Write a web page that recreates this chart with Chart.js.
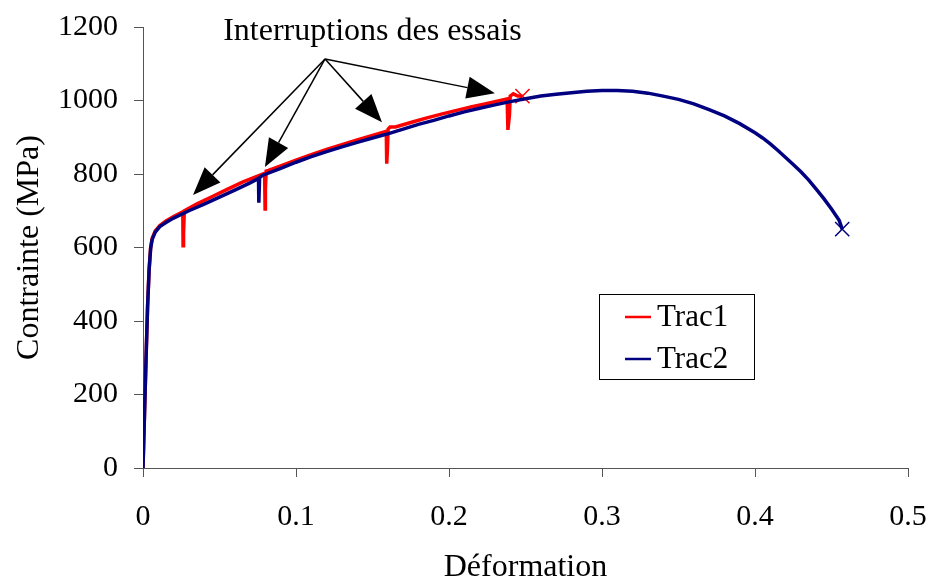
<!DOCTYPE html>
<html>
<head>
<meta charset="utf-8">
<script src="https://cdn.jsdelivr.net/npm/chart.js@4"></script>
<style>
  html, body { margin: 0; padding: 0; background: #fff; }
  #wrap { width: 930px; height: 580px; }
</style>
</head>
<body>
<div id="wrap"><canvas id="tractionChart" width="930" height="580"></canvas></div>
<script>
// Trac1 (red): strain / stress
const trac1Strain = [0, 0.001, 0.002, 0.003, 0.004, 0.005, 0.006, 0.008, 0.011, 0.015, 0.02, 0.026, 0.0262, 0.0265, 0.027,
  0.035, 0.045, 0.055, 0.065, 0.0795, 0.0798, 0.080, 0.0805, 0.082, 0.09, 0.1, 0.11, 0.12, 0.13, 0.14, 0.15,
  0.159, 0.1593, 0.1598, 0.1602, 0.1615, 0.165, 0.175, 0.185, 0.195, 0.205, 0.215, 0.225, 0.238, 0.2385, 0.2395,
  0.240, 0.242, 0.245, 0.248];
const trac1Stress = [0, 150, 300, 440, 540, 600, 625, 645, 660, 672, 684, 697, 605, 640, 700,
  718, 738, 758, 778, 802, 705, 760, 808, 810, 822, 838, 853, 867, 880, 893, 905,
  916, 828, 870, 922, 928, 928, 940, 952, 963, 973, 983, 992, 1004, 920, 960,
  1012, 1018, 1012, 1012];

// Trac2 (blue)
const trac2Strain = [0, 0.001, 0.002, 0.003, 0.004, 0.005, 0.006, 0.008, 0.011, 0.015, 0.02, 0.03, 0.04, 0.05, 0.06,
  0.07, 0.0755, 0.0757, 0.0762, 0.078, 0.09, 0.1, 0.11, 0.12, 0.13, 0.14, 0.15, 0.16, 0.17, 0.18, 0.19, 0.2,
  0.21, 0.22, 0.23, 0.24, 0.25, 0.26, 0.27, 0.28, 0.29, 0.3, 0.31, 0.32, 0.33, 0.34, 0.35, 0.36, 0.37, 0.38,
  0.39, 0.4, 0.405, 0.41, 0.415, 0.42, 0.425, 0.43, 0.435, 0.44, 0.445, 0.45, 0.455, 0.457];
const trac2Stress = [0, 150, 300, 440, 540, 598, 622, 642, 657, 668, 680, 700, 718, 737, 756,
  776, 788, 722, 790, 796, 815, 832, 847, 861, 874, 886, 898, 909, 922, 935, 946, 958,
  969, 979, 988, 997, 1005, 1012, 1017, 1021, 1025, 1027, 1027, 1025, 1020, 1012, 1003, 991, 975, 958,
  937, 912, 898, 882, 864, 845, 826, 806, 784, 759, 733, 705, 674, 650];

const xTicks = [0, 0.1, 0.2, 0.3, 0.4, 0.5];
const yTicks = [0, 200, 400, 600, 800, 1000, 1200];

// annotation: one label, arrows fanning out to the interruptions
const noteText = 'Interruptions des essais';
const noteAt = [0.150, 1165];
const arrowFrom = [0.119, 1113];
const arrowTipX = [0.0327, 0.0797, 0.1562, 0.230];
const arrowTipY = [743, 819, 941, 1020];

const serif = 'Liberation Serif';

function toPoints(xs, ys) {
  return xs.map((x, i) => ({ x: x, y: ys[i] }));
}

const lastMarker = (ctx) => ctx.dataIndex === ctx.dataset.data.length - 1 ? 10 : 0;

const annotationPlugin = {
  id: 'interruptions',
  afterDatasetsDraw(chart) {
    const { ctx, scales: { x, y } } = chart;
    ctx.save();
    ctx.fillStyle = '#000';
    ctx.font = '32px "' + serif + '"';
    ctx.textAlign = 'center';
    ctx.textBaseline = 'alphabetic';
    ctx.fillText(noteText, x.getPixelForValue(noteAt[0]), y.getPixelForValue(noteAt[1]));

    const ox = x.getPixelForValue(arrowFrom[0]);
    const oy = y.getPixelForValue(arrowFrom[1]);
    ctx.strokeStyle = '#000';
    ctx.lineWidth = 1.5;
    arrowTipX.forEach((tx, i) => {
      const px = x.getPixelForValue(tx);
      const py = y.getPixelForValue(arrowTipY[i]);
      const ang = Math.atan2(py - oy, px - ox);
      const len = 28, half = 11;
      const bx = px - len * Math.cos(ang);
      const by = py - len * Math.sin(ang);
      ctx.beginPath();
      ctx.moveTo(ox, oy);
      ctx.lineTo(bx, by);
      ctx.stroke();
      ctx.beginPath();
      ctx.moveTo(px, py);
      ctx.lineTo(bx + half * Math.sin(ang), by - half * Math.cos(ang));
      ctx.lineTo(bx - half * Math.sin(ang), by + half * Math.cos(ang));
      ctx.closePath();
      ctx.fill();
    });
    ctx.restore();
  }
};

const legendBoxPlugin = {
  id: 'legendBox',
  afterDraw(chart) {
    const { ctx } = chart;
    const sets = chart.data.datasets.slice().sort((a, b) => a.legendRank - b.legendRank);
    ctx.save();
    ctx.fillStyle = '#fff';
    ctx.fillRect(599.5, 294.5, 155, 85);
    ctx.strokeStyle = '#000';
    ctx.lineWidth = 1;
    ctx.strokeRect(599.5, 294.5, 155, 85);
    ctx.font = '31px "' + serif + '"';
    ctx.textBaseline = 'middle';
    ctx.textAlign = 'left';
    sets.forEach((ds, i) => {
      const yy = 317 + i * 42;
      ctx.strokeStyle = ds.borderColor;
      ctx.lineWidth = 2.5;
      ctx.beginPath();
      ctx.moveTo(625, yy);
      ctx.lineTo(651, yy);
      ctx.stroke();
      ctx.fillStyle = '#000';
      ctx.fillText(ds.label, 657, yy + 1);
    });
    ctx.restore();
  }
};

new Chart(document.getElementById('tractionChart'), {
  type: 'line',
  data: {
    datasets: [
      {
        label: 'Trac2',
        legendRank: 1,
        order: 0,
        data: toPoints(trac2Strain, trac2Stress),
        borderColor: '#000080',
        backgroundColor: '#000080',
        borderWidth: 3.5,
        pointStyle: 'crossRot',
        pointRadius: lastMarker,
        pointBorderWidth: 1.5,
        pointHoverRadius: 0,
        tension: 0
      },
      {
        label: 'Trac1',
        legendRank: 0,
        order: 1,
        data: toPoints(trac1Strain, trac1Stress),
        borderColor: '#ff0000',
        backgroundColor: '#ff0000',
        borderWidth: 3.5,
        pointStyle: 'crossRot',
        pointRadius: lastMarker,
        pointBorderWidth: 1.5,
        pointHoverRadius: 0,
        tension: 0
      }
    ]
  },
  options: {
    responsive: false,
    animation: false,
    layout: { padding: { top: 27, right: 22, left: 0, bottom: 0 } },
    plugins: {
      legend: { display: false },
      tooltip: { enabled: false }
    },
    scales: {
      x: {
        type: 'linear',
        min: xTicks[0],
        max: xTicks[xTicks.length - 1],
        afterBuildTicks: (s) => { s.ticks = xTicks.map(v => ({ value: v })); },
        afterFit: (s) => { s.height = 112; s.paddingLeft = 0; s.paddingRight = 0; },
        ticks: {
          color: '#000',
          font: { family: serif, size: 30 },
          padding: 22,
          maxRotation: 0,
          callback: (v) => String(Number(v.toFixed(1)))
        },
        grid: { drawOnChartArea: false, drawTicks: true, tickLength: 9, color: '#555' },
        border: { color: '#555', width: 1 },
        title: {
          display: true,
          text: 'Déformation',
          color: '#000',
          font: { family: serif, size: 32, lineHeight: 0.8 },
          padding: { top: 0, bottom: 0 }
        }
      },
      y: {
        min: yTicks[0],
        max: yTicks[yTicks.length - 1],
        afterBuildTicks: (s) => { s.ticks = yTicks.map(v => ({ value: v })); },
        afterFit: (s) => { s.width = 143; s.paddingTop = 0; s.paddingBottom = 0; },
        ticks: {
          color: '#000',
          font: { family: serif, size: 30 },
          padding: 16,
          callback: (v) => String(v)
        },
        grid: { drawOnChartArea: false, drawTicks: true, tickLength: 9, color: '#555' },
        border: { color: '#555', width: 1 },
        title: {
          display: true,
          text: 'Contrainte (MPa)',
          color: '#000',
          font: { family: serif, size: 32, lineHeight: 1 },
          padding: { top: 14, bottom: 0 }
        }
      }
    }
  },
  plugins: [annotationPlugin, legendBoxPlugin]
});
</script>
</body>
</html>
